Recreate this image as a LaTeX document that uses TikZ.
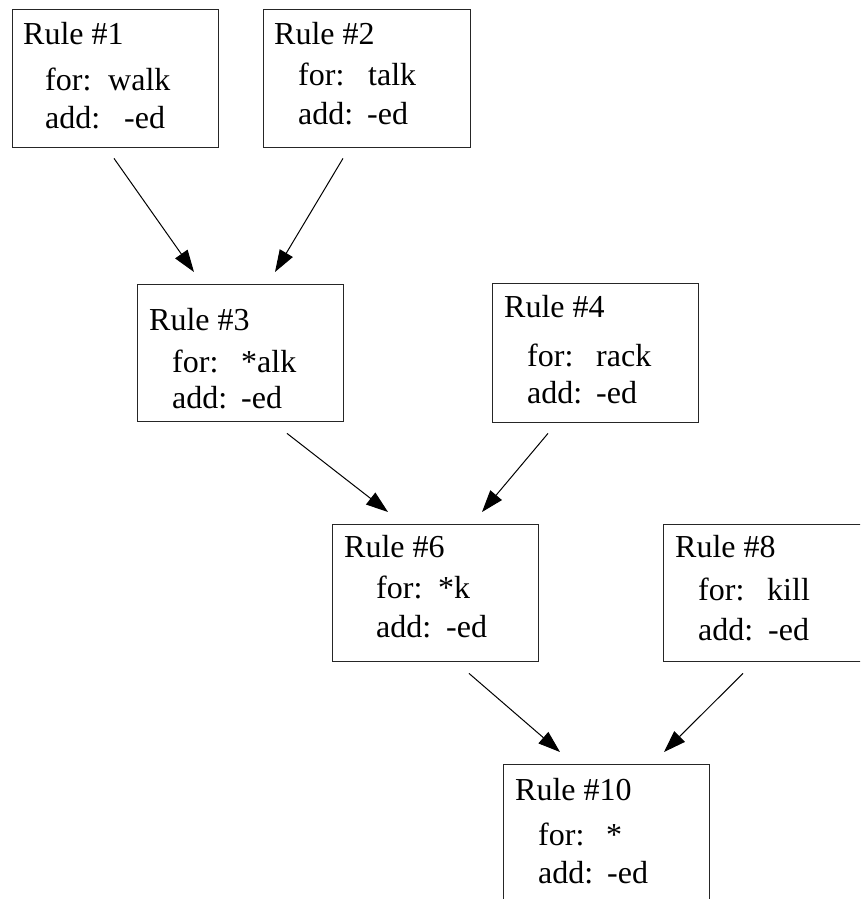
\documentclass[tikz,border=0pt]{standalone}
\usepackage{fontspec}
\setmainfont{Liberation Serif}
\usetikzlibrary{arrows.meta,calc}
\tikzset{
  rulebox/.style={draw=black!85, line width=1.4pt, rectangle, inner sep=0pt, anchor=north west, minimum height=138pt},
  txt/.style={anchor=base west, inner sep=0pt, font=\fontsize{32}{32}\selectfont},
  arr/.style={draw=black, line width=1pt, -{Triangle[length=22pt,width=15pt]}}
}
\begin{document}
\begin{tikzpicture}[x=1pt,y=-1pt]
\useasboundingbox (0,0) rectangle (860,899);
\clip (0,0) rectangle (860,899);
% boxes
\node[rulebox, minimum width=206pt] (r1) at (12,9) {};
\node[rulebox, minimum width=207pt] (r2) at (263,9) {};
\node[rulebox, minimum width=206pt, minimum height=137pt] (r3) at (137,284) {};
\node[rulebox, minimum width=206pt, minimum height=139pt] (r4) at (492,283) {};
\node[rulebox, minimum width=206pt, minimum height=137pt] (r6) at (332,524) {};
\node[rulebox, minimum width=210pt, minimum height=137pt] (r8) at (663,524) {};
\node[rulebox, minimum width=206pt, minimum height=150pt] (r10) at (503,764) {};
% texts box 1
\node[txt] (t1a) at (23,45) {Rule \#1};
\node[txt] (t1b) at (45,90) {for:};
\node[txt] (t1c) at (108,90) {walk};
\node[txt] (t1d) at (45,128) {add:};
\node[txt] (t1e) at (124,128) {-ed};
% box 2
\node[txt] (t2a) at (274,45) {Rule \#2};
\node[txt] (t2b) at (298,85) {for:};
\node[txt] (t2c) at (368,85) {talk};
\node[txt] (t2d) at (298,124) {add:};
\node[txt] (t2e) at (367,124) {-ed};
% box 3
\node[txt] (t3a) at (149,330) {Rule \#3};
\node[txt] (t3b) at (172,372) {for:};
\node[txt] (t3c) at (241,372) {*alk};
\node[txt] (t3d) at (172,408) {add:};
\node[txt] (t3e) at (241,408) {-ed};
% box 4
\node[txt] (t4a) at (504,317) {Rule \#4};
\node[txt] (t4b) at (527,366) {for:};
\node[txt] (t4c) at (596,366) {rack};
\node[txt] (t4d) at (527,403) {add:};
\node[txt] (t4e) at (596,403) {-ed};
% box 6
\node[txt] (t6a) at (344,557) {Rule \#6};
\node[txt] (t6b) at (376,598) {for:};
\node[txt] (t6c) at (438,598) {*k};
\node[txt] (t6d) at (376,637) {add:};
\node[txt] (t6e) at (446,637) {-ed};
% box 8
\node[txt] (t8a) at (675,557) {Rule \#8};
\node[txt] (t8b) at (698,600) {for:};
\node[txt] (t8c) at (767,600) {kill};
\node[txt] (t8d) at (698,640) {add:};
\node[txt] (t8e) at (768,640) {-ed};
% box 10
\node[txt] (t10a) at (515,800) {Rule \#10};
\node[txt] (t10b) at (538,845) {for:};
\node[txt] (t10c) at (606,845) {*};
\node[txt] (t10d) at (538,883) {add:};
\node[txt] (t10e) at (607,883) {-ed};
% arrow end points
\coordinate (a1s) at ($(r1.south west)+(102,10)$);
\coordinate (a1e) at ($(r3.north west)+(57,-12)$);
\coordinate (a2s) at ($(r2.south west)+(80,10)$);
\coordinate (a2e) at ($(r3.north west)+(138,-12)$);
\coordinate (a3s) at ($(r3.south west)+(150,11)$);
\coordinate (a3e) at ($(r6.north west)+(56,-12)$);
\coordinate (a4s) at ($(r4.south west)+(56,10)$);
\coordinate (a4e) at ($(r6.north west)+(150,-12)$);
\coordinate (a5s) at ($(r6.south west)+(137,11)$);
\coordinate (a5e) at ($(r10.north west)+(57,-12)$);
\coordinate (a6s) at ($(r8.south west)+(80,11)$);
\coordinate (a6e) at ($(r10.north west)+(161,-12)$);
\draw[arr] (a1s) -- (a1e);
\draw[arr] (a2s) -- (a2e);
\draw[arr] (a3s) -- (a3e);
\draw[arr] (a4s) -- (a4e);
\draw[arr] (a5s) -- (a5e);
\draw[arr] (a6s) -- (a6e);
\end{tikzpicture}
\end{document}
